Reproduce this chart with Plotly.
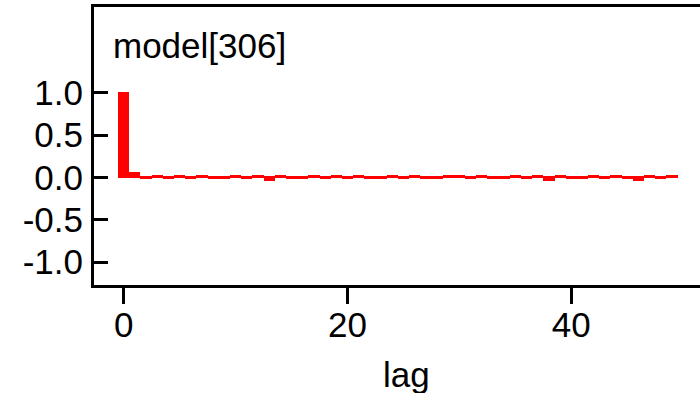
import plotly.graph_objects as go

lags = list(range(50))
acf = [1.0, 0.055, -0.012, 0.012, -0.012, 0.012, -0.012, 0.012, -0.012, -0.012,
       0.012, -0.012, 0.012, -0.03, 0.012, -0.012, -0.012, 0.012, -0.012, 0.012,
       -0.012, 0.012, -0.012, -0.012, 0.012, -0.012, 0.012, -0.012, -0.012, 0.012,
       0.012, -0.012, 0.012, -0.012, -0.012, 0.012, -0.012, 0.012, -0.03, 0.012,
       -0.012, -0.012, 0.012, -0.012, 0.012, -0.012, -0.03, 0.012, -0.012, 0.012]

x_ticks = [0, 20, 40]
y_ticks = [-1.0, -0.5, 0.0, 0.5, 1.0]
y_tick_text = ["-1.0", "-0.5", "0.0", "0.5", "1.0"]
series_name = "model[306]"
x_label = "lag"

FONT = "Liberation Sans, Arial, Helvetica, sans-serif"

fig = go.Figure()
fig.add_trace(go.Bar(
    x=lags, y=acf, width=0.82,
    marker=dict(color="#FF0000", line=dict(color="#FF0000", width=2)),
    showlegend=False,
))

fig.update_layout(
    width=700, height=393,
    margin=dict(l=94, r=0, t=7, b=108),
    paper_bgcolor="white", plot_bgcolor="white",
    font=dict(family=FONT, size=35, color="black"),
    bargap=0,
    xaxis=dict(
        range=[-2.654, 51.5],
        tickvals=x_ticks,
        ticks="outside", ticklen=16, tickwidth=3, tickcolor="black",
        showline=True, linecolor="black", linewidth=3, mirror=True,
        showgrid=False, zeroline=False,
        tickfont=dict(size=35),
        ticklabelstandoff=-9,
    ),
    yaxis=dict(
        range=[-1.271, 2.015],
        tickvals=y_ticks, ticktext=y_tick_text,
        ticks="inside", ticklen=14, tickwidth=3, tickcolor="black",
        showline=True, linecolor="black", linewidth=3,
        showgrid=False, zeroline=False,
        tickfont=dict(size=35),
        ticklabelstandoff=1,
    ),
    annotations=[
        dict(text=series_name, xref="paper", yref="paper",
             x=(111 - 94) / 606, y=1 - (24 - 7) / 278,
             xanchor="left", yanchor="top", showarrow=False,
             font=dict(size=35)),
        dict(text=x_label, xref="paper", yref="paper",
             x=(406 - 94) / 606, y=-(353 - 285) / 278,
             xanchor="center", yanchor="top", showarrow=False,
             font=dict(size=35)),
    ],
)

fig.write_html("out.html")
